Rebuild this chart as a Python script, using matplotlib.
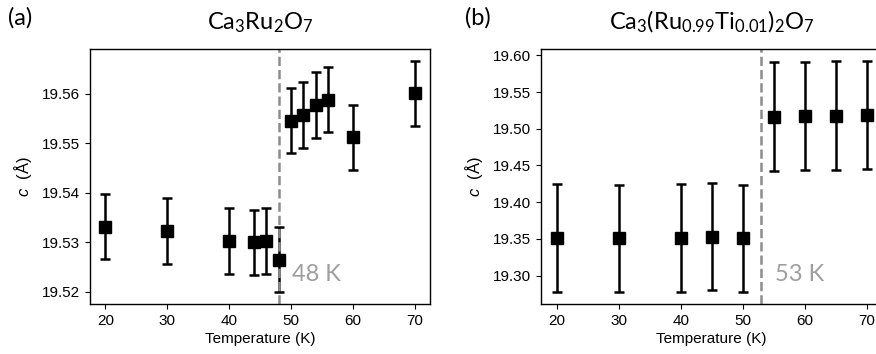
import numpy as np
import matplotlib
matplotlib.use("Agg")
import matplotlib.pyplot as plt
import matplotlib.transforms as mtransforms

plt.rcParams["font.family"] = ["Liberation Sans", "DejaVu Sans"]
plt.rcParams["font.size"] = 11
plt.rcParams["mathtext.fontset"] = "custom"
plt.rcParams["mathtext.it"] = "Liberation Sans:italic"
plt.rcParams["mathtext.rm"] = "Liberation Sans"

# panel (a): Ca3Ru2O7
temp_a = [20, 30, 40, 44, 46, 48, 50, 52, 54, 56, 60, 70]
c_a = [19.5332, 19.5323, 19.5303, 19.5300, 19.5303, 19.5265,
       19.5546, 19.5557, 19.5577, 19.5588, 19.5512, 19.5601]
err_a = [0.0066, 0.0066, 0.0066, 0.0066, 0.0066, 0.0066,
         0.0066, 0.0066, 0.0066, 0.0066, 0.0066, 0.0066]
tc_a = 48

# panel (b): Ca3(Ru0.99Ti0.01)2O7
temp_b = [20, 30, 40, 45, 50, 55, 60, 65, 70]
c_b = [19.3512, 19.3505, 19.3513, 19.3532, 19.3505,
       19.5164, 19.5177, 19.5180, 19.5190]
err_b = [0.0735, 0.0735, 0.0735, 0.0735, 0.0735,
         0.0740, 0.0740, 0.0740, 0.0740]
tc_b = 53

titles = [r"$\mathregular{Ca_3Ru_2O_7}$",
          r"$\mathregular{Ca_3(Ru_{0.99}Ti_{0.01})_2O_7}$"]
letters = ["(a)", "(b)"]

fig = plt.figure(figsize=(8.76, 3.54), dpi=100)
ax1 = fig.add_axes([90 / 876, 50 / 354, 340 / 876, 255 / 354])
ax2 = fig.add_axes([541 / 876, 50 / 354, 341.5 / 876, 255 / 354])

panels = [(ax1, temp_a, c_a, err_a, tc_a), (ax2, temp_b, c_b, err_b, tc_b)]

for i, (ax, t, c, e, tc) in enumerate(panels):
    ax.errorbar(t, c, yerr=e, fmt="none", ecolor="black", elinewidth=1.8,
                capsize=3.3, capthick=1.8, zorder=2)
    ax.axvline(tc, color="#8c8c8c", linestyle="--", linewidth=1.8, zorder=2.5)
    ax.plot(t, c, "s", color="black", markersize=8, zorder=3)
    trans = mtransforms.blended_transform_factory(ax.transData, ax.transAxes)
    ax.text(tc + 2.2, 0.09, f"{tc} K", transform=trans, fontsize=17,
            color="#9e9e9e", family="Lato", va="baseline", ha="left")
    ax.set_xticks([20, 30, 40, 50, 60, 70])
    ax.yaxis.set_major_formatter(matplotlib.ticker.FormatStrFormatter("%.2f"))
    ax.set_xlabel("Temperature (K)", labelpad=3)
    ax.set_ylabel(r"$\it{c}$  (Å)", fontsize=12, labelpad=6)
    ax.set_title(titles[i], family="Lato", fontsize=17, pad=14)
    for s in ax.spines.values():
        s.set_linewidth(1.0)

ax1.set_yticks([19.52, 19.53, 19.54, 19.55, 19.56])
ax2.set_yticks([19.30, 19.35, 19.40, 19.45, 19.50, 19.55, 19.60])

fig.text(8 / 876, 1 - 25 / 354, letters[0], family="Lato", fontsize=17)
fig.text(465 / 876, 1 - 25 / 354, letters[1], family="Lato", fontsize=17)

fig.savefig("out.png", dpi=100)
